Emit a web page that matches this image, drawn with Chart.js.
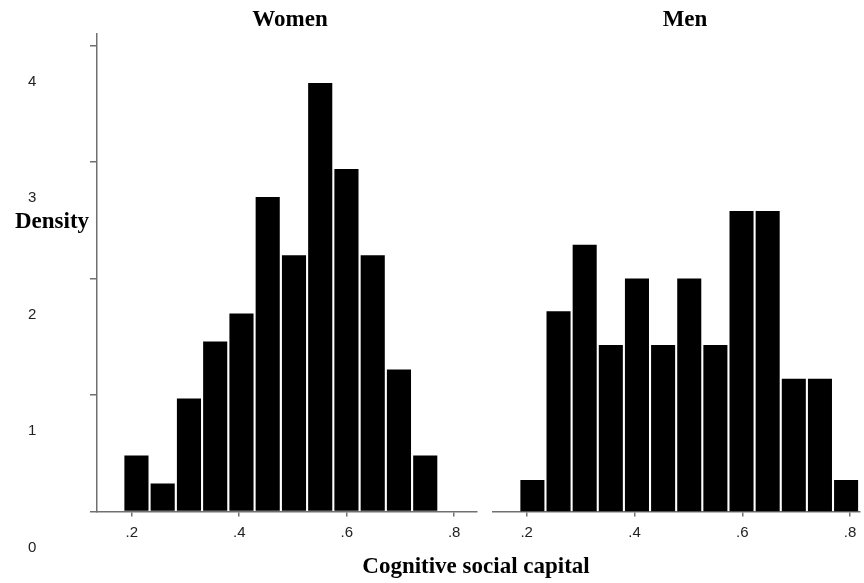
<!DOCTYPE html>
<html>
<head>
<meta charset="utf-8">
<script src="https://cdn.jsdelivr.net/npm/chart.js@4.4.0/dist/chart.umd.min.js"></script>
<style>
body{margin:0;background:#fff;}
#wrap{position:relative;width:864px;height:583px;overflow:hidden;}
.panel{position:absolute;top:0;height:583px;}
#xtitle{position:absolute;left:0;width:952px;top:553px;text-align:center;
font:bold 23px "Liberation Serif",serif;color:#000;}
</style>
</head>
<body>
<div id="wrap">
<div class="panel" style="left:0;width:480px"><canvas id="womenChart"></canvas></div>
<div class="panel" style="left:480px;width:384px"><canvas id="menChart"></canvas></div>
<div id="xtitle">Cognitive social capital</div>
</div>
<script>
// bin centres and densities
const womenBins = [0.2088,0.2576,0.3065,0.3553,0.4042,0.4530,0.5019,0.5507,0.5995,0.6484,0.6972,0.7461]
const womenDensity = [0.48,0.24,0.97,1.46,1.70,2.70,2.20,3.68,2.94,2.20,1.22,0.48]

const menBins = [0.2106,0.2591,0.3076,0.3561,0.4046,0.4531,0.5016,0.5501,0.5986,0.6471,0.6956,0.7441,0.7926]
const menDensity = [0.27,1.72,2.29,1.43,2.00,1.43,2.00,1.43,2.58,2.58,1.14,1.14,0.27]

const xTicks = [0.2,0.4,0.6,0.8]
const yTicks = [0,1,2,3,4]

const axisGrey = "#707070"

/* ================================
   TEXT PLUGIN
================================ */

const panelText = {
id:"panelText",
afterDraw(chart,args,opts){
const ctx = chart.ctx
ctx.save()
ctx.fillStyle = "#000"
ctx.textAlign = "center"
ctx.textBaseline = "middle"
ctx.font = "bold 23px 'Liberation Serif', serif"
ctx.fillText(opts.title, opts.titleX, 20)
if(opts.ylabel){
ctx.fillText(opts.ylabel, 52, 222)
}
ctx.restore()
}
}

function tickFmt(v){
return String(Math.round(v*10)/10).replace(/^0/,"")
}

function makeChart(id, bins, dens, xmin, xmax, opts){
const pts = bins.map((b,i)=>({x:b,y:dens[i]}))
return new Chart(document.getElementById(id),{
type:"bar",
data:{
datasets:[{
data:pts,
backgroundColor:"#000",
barPercentage:0.92,
categoryPercentage:1
}]
},
options:{
responsive:true,
maintainAspectRatio:false,
animation:false,
layout:{padding:opts.padding},
plugins:{
legend:{display:false},
tooltip:{enabled:false},
panelText:opts.text
},
scales:{
x:{
type:"linear",
offset:false,
min:xmin,
max:xmax,
afterBuildTicks:s=>{s.ticks = xTicks.map(v=>({value:v}))},
afterFit:s=>{s.height = 40},
grid:{offset:false,drawOnChartArea:false,tickLength:5,color:axisGrey,lineWidth:1.5},
border:{color:axisGrey,width:1.5},
ticks:{color:"#222",padding:7,font:{family:"'Liberation Sans', Arial",size:15},
callback:v=>tickFmt(v)}
},
y:{
display:opts.showY,
min:0,
max:4.1,
afterBuildTicks:s=>{s.ticks = yTicks.map(v=>({value:v}))},
afterFit:s=>{s.width = opts.showY ? 69 : 0},
grid:{drawOnChartArea:false,tickLength:7,color:axisGrey,lineWidth:1.5},
border:{color:axisGrey,width:1.5},
ticks:{color:"#222",padding:4,labelOffset:36,crossAlign:"far",
font:{family:"'Liberation Sans', Arial",size:15}}
}
}
},
plugins:[panelText]
})
}

makeChart("womenChart", womenBins, womenDensity, 0.1354, 0.8424,{
showY:true,
padding:{left:28,right:3,top:34,bottom:31.5},
text:{title:"Women",titleX:290,ylabel:"Density"}
})

makeChart("menChart", menBins, menDensity, 0.1375, 0.8184,{
showY:false,
padding:{left:13,right:4,top:34,bottom:31.5},
text:{title:"Men",titleX:205}
})
</script>
</body>
</html>
